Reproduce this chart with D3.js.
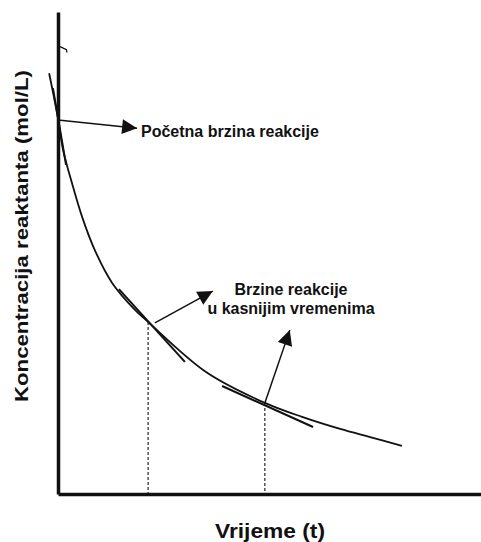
<!DOCTYPE html>
<html>
<head>
<meta charset="utf-8">
<script src="https://cdn.jsdelivr.net/npm/d3@7"></script>
<style>
  html, body { margin: 0; padding: 0; background: #fff; }
  svg { display: block; }
  text { font-family: "Liberation Sans", Arial, sans-serif; fill: #111; }
</style>
</head>
<body>
<svg id="chart" width="481" height="542"></svg>
<script>
// ---- Data (time t in arbitrary units, concentration c in arbitrary units) ----
const curveT = [-0.21, 0, 0.12, 0.33, 0.57, 0.87, 1.28, 1.82, 2.13, 3.50, 4.89, 5.77, 6.67, 7.38, 8.13];
const curveC = [8.73, 7.80, 7.14, 6.45, 5.75, 5.06, 4.38, 3.82, 3.57, 2.53, 1.89, 1.60, 1.35, 1.18, 1.00];

// tangent segments: [t1, c1, t2, c2]
const tangents = [
  [-0.12, 8.42, 0.19, 6.83],
  [1.44, 4.25, 3.00, 2.74],
  [3.88, 2.24, 6.03, 1.39]
];

// dashed drop lines at these times (down to c = 0)
const dropT = [2.13, 4.89];
const dropC = [3.57, 1.89];

// annotation arrows: [tStart, cStart, tTip, cTip]
const arrows = [
  [0.00, 7.76, 1.87, 7.59],
  [2.29, 3.55, 3.66, 4.21],
  [4.89, 1.89, 5.48, 3.40]
];

const xLabel = "Vrijeme (t)";
const yLabel = "Koncentracija reaktanta (mol/L)";
const note1 = "Početna brzina reakcije";
const note2 = ["Brzine reakcije", "u kasnijim vremenima"];

// ---- Layout ----
const svg = d3.select("#chart");
const x = d3.scaleLinear().domain([0, 10]).range([58, 481]);
const y = d3.scaleLinear().domain([0, 10]).range([494, 12]);

// curve
const pts = curveT.map((t, i) => [t, curveC[i]]);
svg.append("path")
  .datum(pts)
  .attr("fill", "none")
  .attr("stroke", "#111")
  .attr("stroke-width", 1.8)
  .attr("d", d3.line().x(d => x(d[0])).y(d => y(d[1])).curve(d3.curveCatmullRom.alpha(0.5)));

// tangents
svg.selectAll(".tan").data(tangents).join("line")
  .attr("class", "tan")
  .attr("x1", d => x(d[0])).attr("y1", d => y(d[1]))
  .attr("x2", d => x(d[2])).attr("y2", d => y(d[3]))
  .attr("stroke", "#111").attr("stroke-width", 2);

// dashed drop lines
svg.selectAll(".drop").data(dropT).join("line")
  .attr("class", "drop")
  .attr("x1", d => x(d)).attr("x2", d => x(d))
  .attr("y1", (d, i) => y(dropC[i])).attr("y2", y(0))
  .attr("stroke", "#111").attr("stroke-width", 1.1)
  .attr("stroke-dasharray", "3,2");

// arrows
const defs = svg.append("defs");
defs.append("marker")
  .attr("id", "ah")
  .attr("viewBox", "0 0 10 10")
  .attr("refX", 10).attr("refY", 5)
  .attr("markerUnits", "userSpaceOnUse")
  .attr("markerWidth", 16).attr("markerHeight", 15)
  .attr("orient", "auto")
  .append("path").attr("d", "M0,0 L10,5 L0,10 Z").attr("fill", "#111");

svg.selectAll(".arr").data(arrows).join("line")
  .attr("class", "arr")
  .attr("x1", d => x(d[0])).attr("y1", d => y(d[1]))
  .attr("x2", d => x(d[2])).attr("y2", d => y(d[3]))
  .attr("stroke", "#111").attr("stroke-width", 1.5)
  .attr("marker-end", "url(#ah)");

// axes (no ticks)
svg.append("g")
  .attr("transform", `translate(0,${y(0)})`)
  .call(d3.axisBottom(x).tickValues([]).tickSizeOuter(0))
  .call(g => g.select(".domain").attr("stroke", "#111").attr("stroke-width", 3.5));
svg.append("g")
  .attr("transform", `translate(${x(0)},0)`)
  .call(d3.axisLeft(y).tickValues([]).tickSizeOuter(0))
  .call(g => g.select(".domain").attr("stroke", "#111").attr("stroke-width", 3.5));

// small mark near the top of the y axis
svg.append("path")
  .attr("d", `M${x(0) + 2},${y(9.28)} L${x(0.2)},${y(9.22)} L${x(0.21)},${y(9.16)}`)
  .attr("fill", "none").attr("stroke", "#111").attr("stroke-width", 1.3);

// labels
svg.append("text")
  .attr("x", 141).attr("y", 137)
  .attr("font-size", 16).attr("font-weight", "bold")
  .text(note1);

svg.append("text")
  .attr("text-anchor", "middle")
  .attr("font-size", 16).attr("font-weight", "bold")
  .selectAll("tspan").data(note2).join("tspan")
  .attr("x", 291).attr("y", (d, i) => 295 + i * 18.5)
  .text(d => d);

svg.append("text")
  .attr("x", 270).attr("y", 538)
  .attr("text-anchor", "middle")
  .attr("font-size", 20).attr("font-weight", "bold")
  .attr("textLength", 110).attr("lengthAdjust", "spacingAndGlyphs")
  .text(xLabel);

svg.append("text")
  .attr("transform", "translate(28,236) rotate(-90)")
  .attr("text-anchor", "middle")
  .attr("font-size", 19).attr("font-weight", "bold")
  .attr("textLength", 332).attr("lengthAdjust", "spacingAndGlyphs")
  .text(yLabel);
</script>
</body>
</html>
